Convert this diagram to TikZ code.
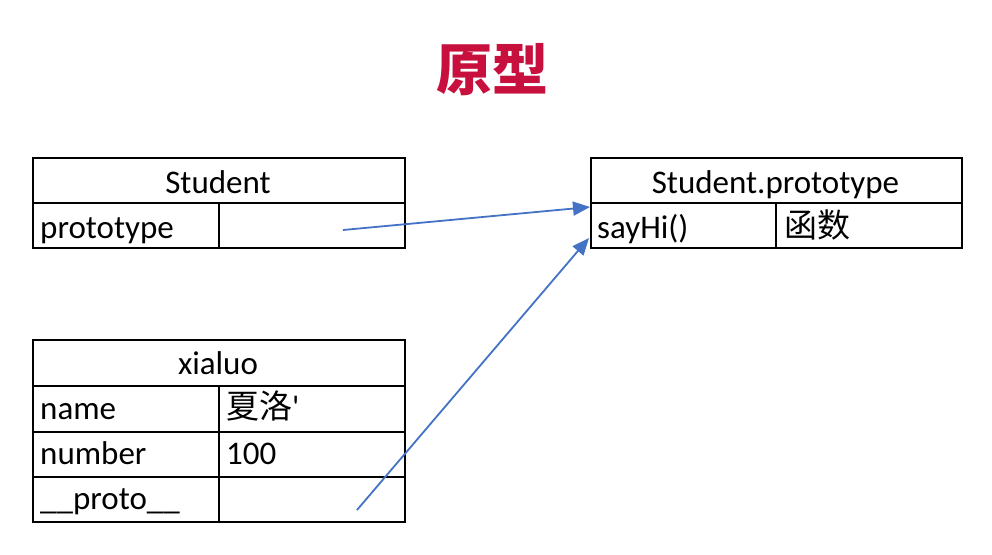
\documentclass[tikz,border=0pt]{standalone}
\usepackage{fontspec}
\setmainfont{Carlito}
\newfontfamily\cjk{Noto Sans CJK SC}
\usetikzlibrary{arrows.meta}
\definecolor{titlered}{RGB}{200,16,62}
\definecolor{arrowblue}{RGB}{68,114,196}
\tikzset{
  cellbox/.style={draw=black, line width=1.8pt, rectangle, inner sep=0pt, anchor=north west},
  txt/.style={inner sep=0pt, font=\fontsize{33}{36}\selectfont},
  ptr/.style={draw=arrowblue, line width=1.8pt, -{Triangle[length=17pt,width=14pt]}}
}
\begin{document}
\begin{tikzpicture}[x=1pt,y=-1pt]
\useasboundingbox[fill=white] (0,0) rectangle (992,554);
% title
\node[font=\cjk\bfseries\fontsize{56}{60}\selectfont, text=titlered] (title) at (492,70) {原型};
% Student table
\node[cellbox, minimum width=372pt, minimum height=45pt] (sh) at (32,157) {};
\node[cellbox, minimum width=186pt, minimum height=45pt] (sk) at (32,202) {};
\node[cellbox, minimum width=186pt, minimum height=45pt] (sv) at (218,202) {};
\node[txt, anchor=base] (sht) at (218,193) {Student};
\node[txt, anchor=base west] (skt) at (40,238) {prototype};
% Student.prototype table
\node[cellbox, minimum width=371pt, minimum height=45pt] (ph) at (590,157) {};
\node[cellbox, minimum width=185pt, minimum height=45pt] (pk) at (590,202) {};
\node[cellbox, minimum width=186pt, minimum height=45pt] (pv) at (775,202) {};
\node[txt, anchor=base] (pht) at (775.5,193) {Student.prototype};
\node[txt, anchor=base west] (pkt) at (597,238) {sayHi()};
\node[txt, anchor=base west] (pvt) at (784,237) {\cjk 函数};
% xialuo table
\node[cellbox, minimum width=372pt, minimum height=46pt] (xh) at (32,339) {};
\node[cellbox, minimum width=186pt, minimum height=46pt] (x1k) at (32,385) {};
\node[cellbox, minimum width=186pt, minimum height=46pt] (x1v) at (218,385) {};
\node[cellbox, minimum width=186pt, minimum height=45pt] (x2k) at (32,431) {};
\node[cellbox, minimum width=186pt, minimum height=45pt] (x2v) at (218,431) {};
\node[cellbox, minimum width=186pt, minimum height=45pt] (x3k) at (32,476) {};
\node[cellbox, minimum width=186pt, minimum height=45pt] (x3v) at (218,476) {};
\node[txt, anchor=base] (xht) at (218,374) {xialuo};
\node[txt, anchor=base west] (x1kt) at (40,419) {name};
\node[txt, anchor=base west] (x1vt) at (226,418) {{\cjk 夏洛}\textquotesingle};
\node[txt, anchor=base west] (x2kt) at (40,464) {number};
\node[txt, anchor=base west] (x2vt) at (226,464) {100};
\node[txt, anchor=base west] (x3kt) at (40,509) {\_\_proto\_\_};
% pointers
\coordinate (s1) at (343,230);
\coordinate (e1) at (590,207);
\coordinate (s2) at (357,510);
\coordinate (e2) at (589,238);
\draw[ptr] (s1) -- (e1);
\draw[ptr] (s2) -- (e2);
\end{tikzpicture}
\end{document}
